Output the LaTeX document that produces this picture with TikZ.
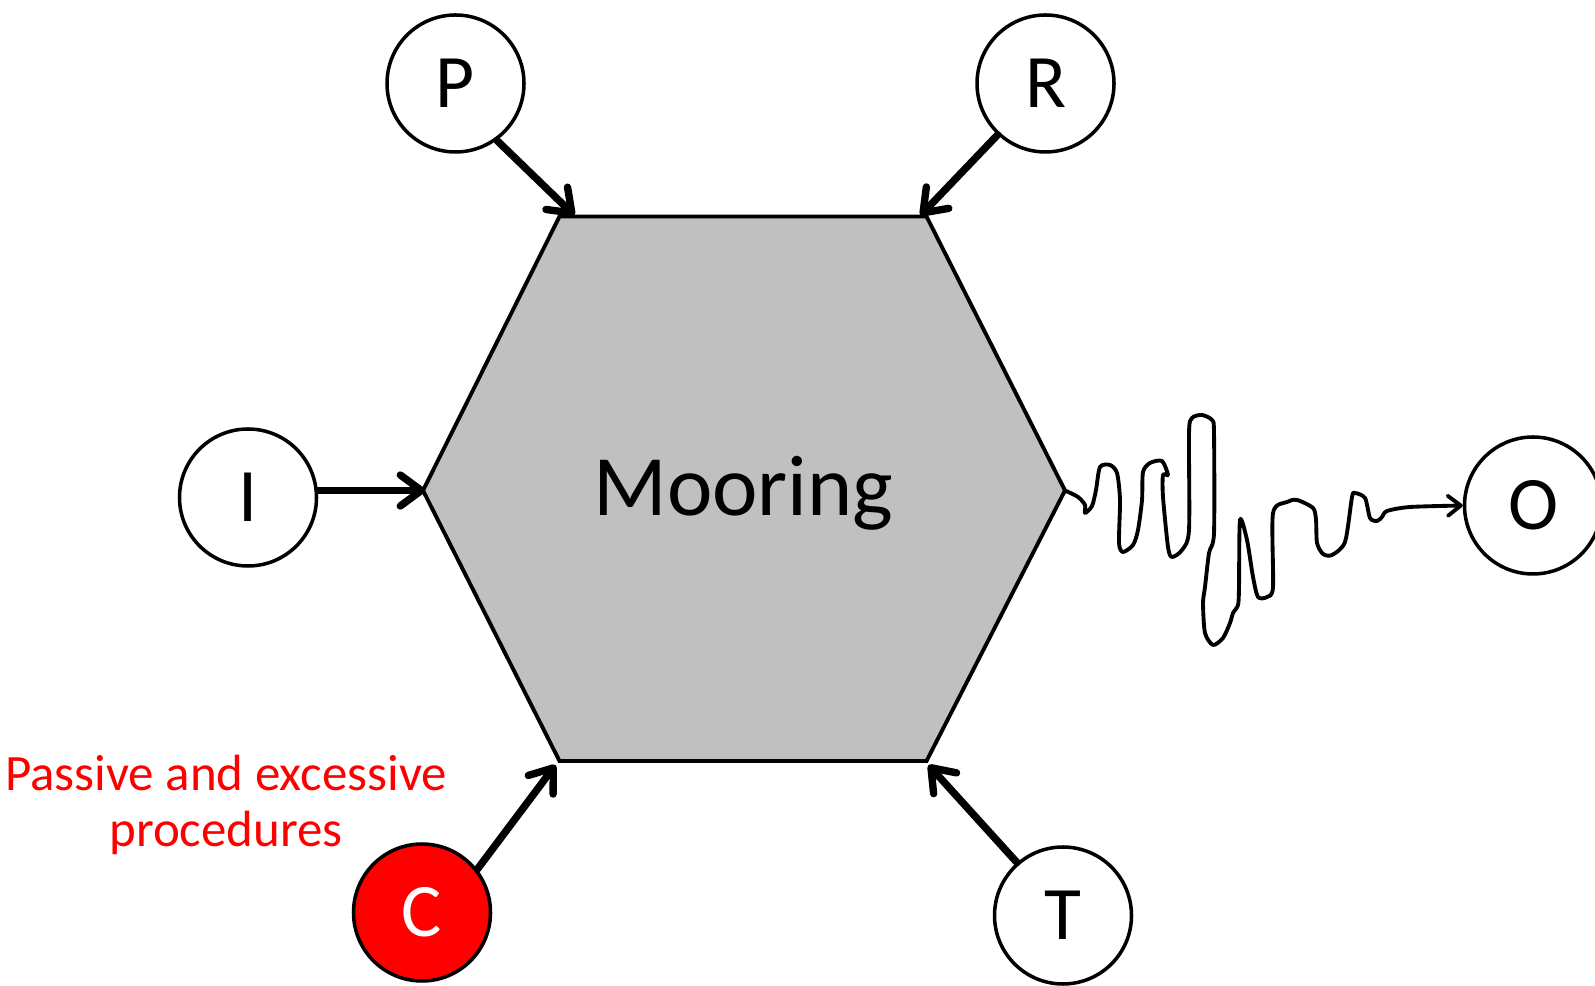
\documentclass[tikz,border=0pt]{standalone}
\usepackage{fontspec}
\setmainfont{Carlito}
\usetikzlibrary{arrows.meta}

\definecolor{hexgray}{RGB}{192,192,192}

\tikzset{
    station/.style={circle, draw, line width=2pt, fill=white, minimum size=2.74cm,
        inner sep=0pt, font=\fontsize{43}{43}\selectfont},
    feed/.style={line width=4.2pt, line cap=round,
        -{Straight Barb[length=0.42cm, width=0.62cm, round]}},
    wiggle/.style={line width=2.2pt, line join=round,
        -{Straight Barb[length=0.26cm, width=0.4cm, round]}}
}

\begin{document}
\begin{tikzpicture}
    \useasboundingbox (0, 0) rectangle (31.9, 19.72);

    % corners of the mooring hexagon
    \coordinate (tl) at (11.19, 15.39);
    \coordinate (tr) at (18.53, 15.39);
    \coordinate (r)  at (21.30, 9.91);
    \coordinate (br) at (18.53, 4.50);
    \coordinate (bl) at (11.19, 4.50);
    \coordinate (l)  at (8.46, 9.91);

    \draw[fill=hexgray, line width=2.2pt, line join=miter]
        (tl) -- (tr) -- (r) -- (br) -- (bl) -- (l) -- cycle;
    \node[font=\fontsize{49}{49}\selectfont] (mooring) at (14.87, 9.85) {Mooring};

    % inputs around it
    \node[station] (P) at (9.11, 18.05) {P};
    \node[station] (R) at (20.91, 18.05) {R};
    \node[station] (I) at (4.96, 9.77) {I};
    \node[station, fill=red, text=white] (C) at (8.44, 1.47) {C};
    \node[station] (T) at (21.26, 1.41) {T};
    \node[station] (O) at (30.66, 9.61) {O};

    % arrow tips land on the hexagon
    \coordinate (ptip) at (11.49, 15.41);
    \coordinate (rtip) at (18.41, 15.41);
    \coordinate (itip) at (8.50, 9.91);
    \coordinate (ctip) at (11.11, 4.42);
    \coordinate (ttip) at (18.57, 4.42);

    \draw[feed] (P.-54) -- (ptip);
    \draw[feed] (R.-133) -- (rtip);
    \draw[feed] (I.east |- itip) -- (itip);
    \draw[feed] (C.38) -- (ctip);
    \draw[feed] (T.131) -- (ttip);

    % noisy output
    \draw[wiggle] plot[smooth, tension=0.45] coordinates {
        (r) (21.56, 9.78) (21.70, 9.62) (21.70, 9.46) (21.84, 9.60) (21.92, 9.92)
        (22.00, 10.38) (22.20, 10.42) (22.34, 10.26) (22.40, 9.72) (22.38, 8.86)
        (22.46, 8.68) (22.66, 8.82) (22.76, 9.12) (22.84, 9.72) (22.86, 10.28)
        (23.00, 10.46) (23.24, 10.50) (23.36, 10.22) (23.26, 10.22) (23.26, 9.78)
        (23.36, 8.78) (23.44, 8.58) (23.64, 8.72) (23.78, 9.12) (23.78, 11.06)
        (23.84, 11.36) (24.04, 11.42) (24.24, 11.32) (24.28, 11.06) (24.28, 9.06)
        (24.18, 8.66) (24.10, 7.98) (24.06, 7.66) (24.10, 7.06) (24.26, 6.82)
        (24.46, 6.96) (24.60, 7.26) (24.66, 7.46) (24.76, 7.62) (24.78, 7.98)
        (24.80, 9.32) (24.94, 8.92) (25.06, 8.18) (25.16, 7.78) (25.34, 7.78)
        (25.46, 7.98) (25.46, 9.46) (25.74, 9.68) (25.94, 9.72) (26.26, 9.56)
        (26.32, 9.32) (26.34, 8.86) (26.46, 8.64) (26.64, 8.62) (26.90, 8.88)
        (27.04, 9.78) (27.10, 9.86) (27.30, 9.76) (27.40, 9.36) (27.54, 9.30)
        (27.64, 9.38) (27.74, 9.50) (28.20, 9.58) (O.west)};

    \node[text=red, align=center, font=\fontsize{29}{32}\selectfont] (note)
        at (4.52, 3.62) {Passive and excessive\\procedures};
\end{tikzpicture}
\end{document}
